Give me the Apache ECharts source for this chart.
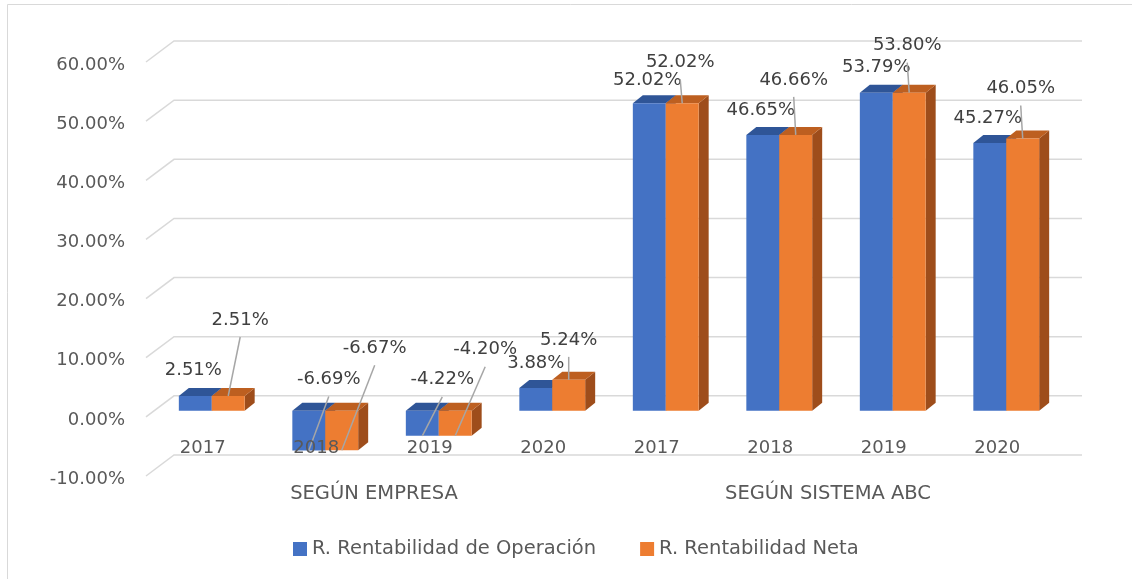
<!DOCTYPE html>
<html><head><meta charset="utf-8">
<script src="https://cdn.jsdelivr.net/npm/echarts@6/dist/echarts.min.js"></script>
<style>html,body{margin:0;padding:0;background:#fff}#c{width:1132px;height:579px}</style>
</head><body><div id="c"></div>
<script>
const categories = ['2017','2018','2019','2020','2017','2018','2019','2020'];
const groups = ['SEGÚN EMPRESA','SEGÚN SISTEMA ABC'];
const seriesNames = ['R. Rentabilidad de Operación','R. Rentabilidad Neta'];
const operacion = [2.51,-6.69,-4.22,3.88,52.02,46.65,53.79,45.27];
const neta = [2.51,-6.67,-4.20,5.24,52.02,46.66,53.80,46.05];
const yTicks = [-10,0,10,20,30,40,50,60];

// hand-placed label nudges (px, from the end of each bar), as in the original
const opLabelShift = [[-2,-26],[20,-71],[20,-56],[0,-25],[-2,-23],[-2,-25],[0,-25],[-2,-25]];
const netLabelShift = [[12,-76],[33,-102],[30,-86],[0,-40],[-2,-41],[-2,-55],[-2,-47],[-2,-50]];

const FONT = 'DejaVu Sans';
const DX = 10, DY = -8;

function barRenderer(side, front, topC, sideC) {
  return function (params, api) {
    const i = api.value(0), v = api.value(1);
    const band = api.size([1, 0])[0];
    const w = band * 0.29;
    const c = api.coord([i, 0])[0];
    const y0 = api.coord([i, 0])[1], yv = api.coord([i, v])[1];
    const x0 = side === 0 ? c - w : c, x1 = x0 + w;
    const top = Math.min(y0, yv), bot = Math.max(y0, yv);
    return {
      type: 'group',
      children: [
        {type: 'polygon', shape: {points: [[x1, top], [x1 + DX, top + DY], [x1 + DX, bot + DY], [x1, bot]]}, style: {fill: sideC}},
        {type: 'polygon', shape: {points: [[x0, top], [x1, top], [x1 + DX, top + DY], [x0 + DX, top + DY]]}, style: {fill: topC}},
        {type: 'rect', shape: {x: x0, y: top, width: w, height: bot - top}, style: {fill: front}}
      ]
    };
  };
}

function labelRenderer(params, api) {
  const i = api.value(0);
  const band = api.size([1, 0])[0];
  const w = band * 0.29;
  const c = api.coord([i, 0])[0];
  const children = [];
  [[operacion, opLabelShift, c - w / 2], [neta, netLabelShift, c + w / 2]].forEach(function (d) {
    const vals = d[0], shifts = d[1], bx = d[2];
    const v = vals[i];
    const yv = api.coord([i, v])[1];
    const tx = bx + shifts[i][0], ty = yv + shifts[i][1];
    const moved = Math.hypot(shifts[i][0], shifts[i][1] + 25) > 10;
    if (moved) {
      children.push({type: 'line', shape: {x1: tx, y1: ty + 17, x2: bx, y2: yv}, style: {stroke: '#A6A6A6', lineWidth: 1.5}});
    }
    children.push({type: 'text', x: tx, y: ty, style: {text: v.toFixed(2) + '%', fill: '#404040', fontSize: 18, fontFamily: FONT, align: 'center', verticalAlign: 'middle'}});
  });
  return {type: 'group', children: children};
}

function wallRenderer(params, api) {
  const v = api.value(1);
  const cs = params.coordSys;
  const y = api.coord([0, v])[1];
  return {type: 'polyline', shape: {points: [[cs.x - 9, y + 6], [cs.x + 19, y - 15], [cs.x + cs.width + 19, y - 15]]},
          style: {stroke: '#D9D9D9', lineWidth: 1.5, fill: null}};
}

// pixel distance from the bottom of the grid up to the zero line
const zeroLift = Math.round((579 - 56 - 109) * (0 - yTicks[0]) / (yTicks[yTicks.length - 1] - yTicks[0]));

const chart = echarts.init(document.getElementById('c'));
chart.setOption({
  backgroundColor: '#fff',
  animation: false,
  graphic: [{type: 'rect', shape: {x: 7.5, y: 4.5, width: 1300, height: 800}, style: {fill: null, stroke: '#D9D9D9', lineWidth: 1}, silent: true}],
  legend: {
    data: seriesNames, left: 288, top: 534, itemWidth: 14, itemHeight: 14, icon: 'rect', itemGap: 44,
    textStyle: {fontSize: 19.5, color: '#595959', fontFamily: FONT}
  },
  grid: {left: 155, right: 69, top: 56, bottom: 109, containLabel: false},
  xAxis: [
    {type: 'category', data: categories, position: 'bottom', offset: -zeroLift, z: 20,
     axisLine: {show: false, onZero: false}, axisTick: {show: false},
     axisLabel: {fontSize: 18, color: '#595959', fontFamily: FONT, margin: 28, padding: [0, 18, 0, 0]}},
    {type: 'category', data: groups, position: 'bottom',
     axisLine: {show: false, onZero: false}, axisTick: {show: false},
     axisLabel: {fontSize: 19.5, color: '#595959', fontFamily: FONT, margin: 14, padding: [0, 16, 0, 0]}}
  ],
  yAxis: {
    type: 'value', min: yTicks[0], max: yTicks[yTicks.length - 1], interval: yTicks[1] - yTicks[0],
    axisLine: {show: false}, axisTick: {show: false}, splitLine: {show: false},
    axisLabel: {margin: 30, color: '#595959', fontFamily: FONT, fontSize: 18,
                formatter: function (v) { return '{g| }\n{t|' + v.toFixed(2) + '%}'; },
                rich: {g: {fontSize: 2, lineHeight: 18}, t: {fontSize: 18, lineHeight: 22, color: '#595959', fontFamily: FONT}}}
  },
  series: [
    {type: 'custom', name: 'wall', renderItem: wallRenderer, clip: false, silent: true, z: 1,
     data: yTicks.map(function (v) { return [0, v]; })},
    {type: 'custom', name: seriesNames[0], renderItem: barRenderer(0, '#4472C4', '#2F5597', '#2A4C88'), clip: false, z: 2,
     itemStyle: {color: '#4472C4'}, data: operacion.map(function (v, i) { return [i, v]; })},
    {type: 'custom', name: seriesNames[1], renderItem: barRenderer(1, '#ED7D31', '#BD5F20', '#9E4D1B'), clip: false, z: 3,
     itemStyle: {color: '#ED7D31'}, data: neta.map(function (v, i) { return [i, v]; })},
    {type: 'custom', name: 'labels', renderItem: labelRenderer, clip: false, silent: true, z: 5,
     data: categories.map(function (c, i) { return [i, 0]; })}
  ]
});
</script>
</body></html>
